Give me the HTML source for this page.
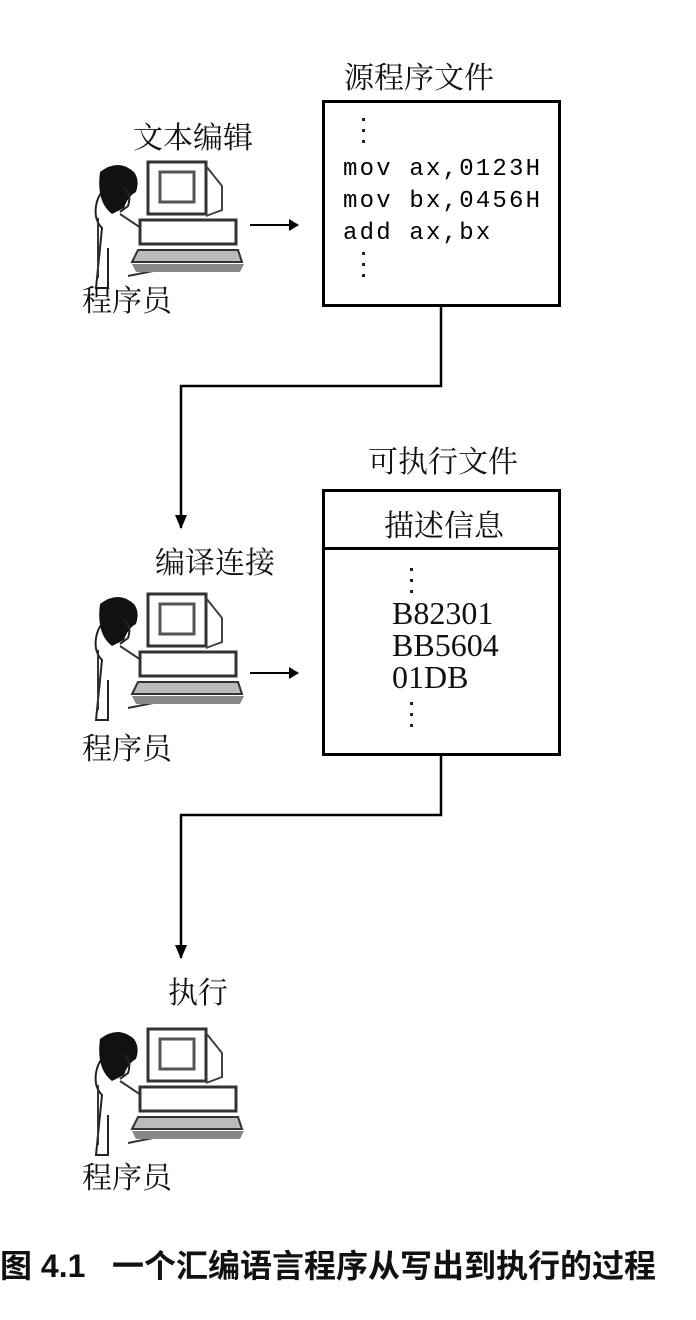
<!DOCTYPE html>
<html><head><meta charset="utf-8"><style>
body{margin:0;width:696px;height:1320px;background:#fff;position:relative;overflow:hidden;font-family:"Liberation Serif","Noto Serif CJK SC",serif;}
.t{position:absolute;font-size:30px;color:#111;white-space:nowrap;}
.box{position:absolute;border:3px solid #000;box-sizing:border-box;}
.mono{font-family:"Liberation Mono",monospace;font-size:24px;letter-spacing:2.2px;line-height:32px;position:absolute;}
.dots{position:absolute;width:3px;}
.dots i{display:block;width:3px;height:3px;background:#222;margin-bottom:8px;}
</style></head><body>
<svg width="696" height="1320" style="position:absolute;left:0;top:0">
<defs>
<g id="pc">
<path d="M30 30 q-18 -4 -22 18 q-2 14 6 22 l-6 60 l12 0 l0 -40" fill="none" stroke="#222" stroke-width="2"/>
<path d="M12 14 q18 -14 34 0 q6 8 2 20 q-8 4 -12 16 l-12 6 q-16 -12 -12 -42z" fill="#111"/>
<path d="M36 30 q8 6 4 18 l-8 6" fill="none" stroke="#222" stroke-width="2"/>
<path d="M10 60 l0 60 M32 56 l30 20 M40 118 l40 -8" stroke="#333" stroke-width="2" fill="none"/>
<rect x="60" y="4" width="58" height="52" fill="#fff" stroke="#333" stroke-width="3"/>
<rect x="72" y="14" width="34" height="30" fill="#fff" stroke="#555" stroke-width="3"/>
<path d="M118 8 l16 20 l0 24 l-16 6" fill="none" stroke="#444" stroke-width="2"/>
<rect x="52" y="62" width="96" height="24" fill="#fff" stroke="#333" stroke-width="3"/>
<path d="M50 92 l100 0 l4 12 l-110 0z" fill="#bbb" stroke="#333" stroke-width="2"/>
<path d="M44 106 l112 0 l-4 8 l-104 0z" fill="#888"/>
</g>
<marker id="ah" markerWidth="10" markerHeight="12" refX="9" refY="6" orient="auto" markerUnits="userSpaceOnUse"><path d="M0 0 L10 6 L0 12z" fill="#000"/></marker>
</defs>
<use href="#pc" x="88" y="158"/>
<use href="#pc" x="88" y="590"/>
<use href="#pc" x="88" y="1025"/>
<line x1="250" y1="225" x2="298" y2="225" stroke="#000" stroke-width="2" marker-end="url(#ah)"/>
<line x1="250" y1="673" x2="298" y2="673" stroke="#000" stroke-width="2" marker-end="url(#ah)"/>
<polyline points="441,305 441,386 181,386 181,528" fill="none" stroke="#000" stroke-width="2.5"/>
<path d="M175 515 L181 529 L187 515z" fill="#000"/>
<polyline points="441,755 441,815 181,815 181,958" fill="none" stroke="#000" stroke-width="2.5"/>
<path d="M175 945 L181 959 L187 945z" fill="#000"/>
</svg>
<div class="t" style="left:344px;top:53px">源程序文件</div>
<div class="t" style="left:133px;top:113px">文本编辑</div>
<div class="t" style="left:82px;top:276px">程序员</div>
<div class="box" style="left:322px;top:100px;width:239px;height:207px"></div>
<div class="dots" style="left:362px;top:118px"><i></i><i></i><i></i></div>
<div class="mono" style="left:343px;top:154px">mov ax,0123H<br>mov bx,0456H<br>add ax,bx</div>
<div class="dots" style="left:362px;top:252px"><i></i><i></i><i></i></div>
<div class="t" style="left:368px;top:437px">可执行文件</div>
<div class="box" style="left:322px;top:489px;width:239px;height:267px"></div>
<div style="position:absolute;left:322px;top:547px;width:239px;height:3px;background:#000"></div>
<div class="t" style="left:384px;top:501px">描述信息</div>
<div class="t" style="left:155px;top:538px">编译连接</div>
<div class="t" style="left:82px;top:724px">程序员</div>
<div class="dots" style="left:410px;top:568px"><i></i><i></i><i></i></div>
<div class="t" style="left:392px;top:597px;line-height:32px;font-size:32px">B82301<br>BB5604<br>01DB</div>
<div class="dots" style="left:410px;top:702px"><i></i><i></i><i></i></div>
<div class="t" style="left:168px;top:968px">执行</div>
<div class="t" style="left:82px;top:1153px">程序员</div>
<div class="t" style="left:0px;top:1241px;font-family:'Liberation Sans','Noto Sans CJK SC',sans-serif;font-size:32px;font-weight:bold">图 4.1 &nbsp;&nbsp;一个汇编语言程序从写出到执行的过程</div>
</body></html>
